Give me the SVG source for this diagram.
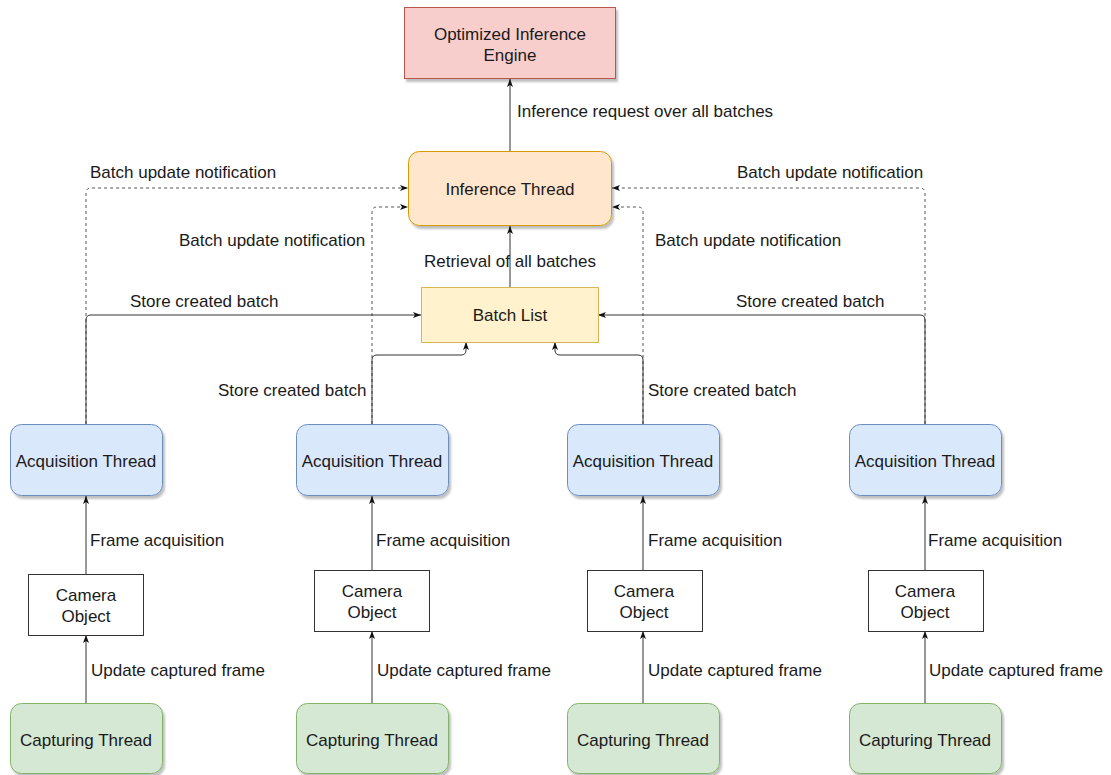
<svg xmlns="http://www.w3.org/2000/svg" width="1111" height="775" viewBox="0 0 1111 775">
<style>
text{font-family:"Liberation Sans",Arial,sans-serif;font-size:17px;fill:#1a1a1a}
.c{text-anchor:middle}
.solid{fill:none;stroke:#333;stroke-width:1}
.dot{fill:none;stroke:#555;stroke-width:1;stroke-dasharray:3 3}
.eng{fill:#f8cecc;stroke:#b85450}
.inf{fill:#ffe6cc;stroke:#d79b00}
.bat{fill:#fff2cc;stroke:#d6b656}
.acq{fill:#dae8fc;stroke:#6c8ebf}
.cap{fill:#d5e8d4;stroke:#82b366}
.cam{fill:#ffffff;stroke:#333}
</style>
<defs>
<filter id="sh" x="-10%" y="-10%" width="130%" height="140%">
<feDropShadow dx="2" dy="3" stdDeviation="1" flood-color="#000" flood-opacity="0.25"/>
</filter>
<marker id="ah" viewBox="0 0 8 6" markerWidth="8" markerHeight="6" refX="8" refY="3" orient="auto" markerUnits="userSpaceOnUse">
<path d="M0,0 L8,3 L0,6 L2,3 z" fill="#111"/>
</marker>
</defs>

<g id="connectors">
<path class="solid" d="M510 151 V79" marker-end="url(#ah)"/>
<path class="solid" d="M510 287 V226" marker-end="url(#ah)"/>
<path class="dot" d="M86 424 V193 Q86 188 91 188 H408" marker-end="url(#ah)"/>
<path class="dot" d="M372 424 V212 Q372 207 377 207 H408" marker-end="url(#ah)"/>
<path class="dot" d="M643 424 V212 Q643 207 638 207 H612" marker-end="url(#ah)"/>
<path class="dot" d="M925 424 V193 Q925 188 920 188 H612" marker-end="url(#ah)"/>
<path class="solid" d="M86 424 V320 Q86 315 91 315 H421" marker-end="url(#ah)"/>
<path class="solid" d="M925 424 V320 Q925 315 920 315 H598" marker-end="url(#ah)"/>
<path class="solid" d="M372 424 V360 Q372 355 377 355 H461 Q466 355 466 350 V342" marker-end="url(#ah)"/>
<path class="solid" d="M643 424 V360 Q643 355 638 355 H560 Q555 355 555 350 V342" marker-end="url(#ah)"/>
<path class="solid" d="M86 574 V496" marker-end="url(#ah)"/>
<path class="solid" d="M86 703 V635" marker-end="url(#ah)"/>
<path class="solid" d="M372 570 V496" marker-end="url(#ah)"/>
<path class="solid" d="M372 703 V631" marker-end="url(#ah)"/>
<path class="solid" d="M643 570 V496" marker-end="url(#ah)"/>
<path class="solid" d="M643 703 V631" marker-end="url(#ah)"/>
<path class="solid" d="M925 570 V496" marker-end="url(#ah)"/>
<path class="solid" d="M925 703 V631" marker-end="url(#ah)"/>
<text x="517" y="117">Inference request over all batches</text>
<text x="90" y="178">Batch update notification</text>
<text x="737" y="178">Batch update notification</text>
<text x="179" y="246">Batch update notification</text>
<text x="655" y="246">Batch update notification</text>
<text x="510" y="267" class="c">Retrieval of all batches</text>
<text x="130" y="307">Store created batch</text>
<text x="736" y="307">Store created batch</text>
<text x="218" y="396">Store created batch</text>
<text x="648" y="396">Store created batch</text>
<text x="90" y="546">Frame acquisition</text>
<text x="376" y="546">Frame acquisition</text>
<text x="648" y="546">Frame acquisition</text>
<text x="928" y="546">Frame acquisition</text>
<text x="91" y="676">Update captured frame</text>
<text x="377" y="676">Update captured frame</text>
<text x="648" y="676">Update captured frame</text>
<text x="929" y="676">Update captured frame</text>
</g>

<g id="engine">
<rect class="eng" x="404.5" y="7.5" width="211" height="71" filter="url(#sh)"/>
<text x="510" y="40" class="c">Optimized Inference</text>
<text x="510" y="61" class="c">Engine</text>
</g>

<g id="inference-thread">
<rect class="inf" x="408.5" y="151.5" width="203" height="74" rx="11" filter="url(#sh)"/>
<text x="510" y="195" class="c">Inference Thread</text>
</g>

<g id="batch-list">
<rect class="bat" x="421.5" y="287.5" width="177" height="55"/>
<text x="510" y="321" class="c">Batch List</text>
</g>

<g id="acq1"><rect class="acq" x="10.5" y="424.5" width="152" height="71" rx="11" filter="url(#sh)"/><text x="86" y="467" class="c">Acquisition Thread</text></g>
<g id="acq2"><rect class="acq" x="296.5" y="424.5" width="152" height="71" rx="11" filter="url(#sh)"/><text x="372" y="467" class="c">Acquisition Thread</text></g>
<g id="acq3"><rect class="acq" x="567.5" y="424.5" width="152" height="71" rx="11" filter="url(#sh)"/><text x="643" y="467" class="c">Acquisition Thread</text></g>
<g id="acq4"><rect class="acq" x="849.5" y="424.5" width="152" height="71" rx="11" filter="url(#sh)"/><text x="925" y="467" class="c">Acquisition Thread</text></g>

<g id="cam1"><rect class="cam" x="28.5" y="574.5" width="115" height="61"/><text x="86" y="601" class="c">Camera</text><text x="86" y="622" class="c">Object</text></g>
<g id="cam2"><rect class="cam" x="314.5" y="570.5" width="115" height="61"/><text x="372" y="597" class="c">Camera</text><text x="372" y="618" class="c">Object</text></g>
<g id="cam3"><rect class="cam" x="587.5" y="570.5" width="115" height="61"/><text x="644" y="597" class="c">Camera</text><text x="644" y="618" class="c">Object</text></g>
<g id="cam4"><rect class="cam" x="868.5" y="570.5" width="115" height="61"/><text x="925" y="597" class="c">Camera</text><text x="925" y="618" class="c">Object</text></g>

<g id="cap1"><rect class="cap" x="10.5" y="703.5" width="152" height="70" rx="11" filter="url(#sh)"/><text x="86" y="746" class="c">Capturing Thread</text></g>
<g id="cap2"><rect class="cap" x="296.5" y="703.5" width="152" height="70" rx="11" filter="url(#sh)"/><text x="372" y="746" class="c">Capturing Thread</text></g>
<g id="cap3"><rect class="cap" x="567.5" y="703.5" width="152" height="70" rx="11" filter="url(#sh)"/><text x="643" y="746" class="c">Capturing Thread</text></g>
<g id="cap4"><rect class="cap" x="849.5" y="703.5" width="152" height="70" rx="11" filter="url(#sh)"/><text x="925" y="746" class="c">Capturing Thread</text></g>
</svg>
